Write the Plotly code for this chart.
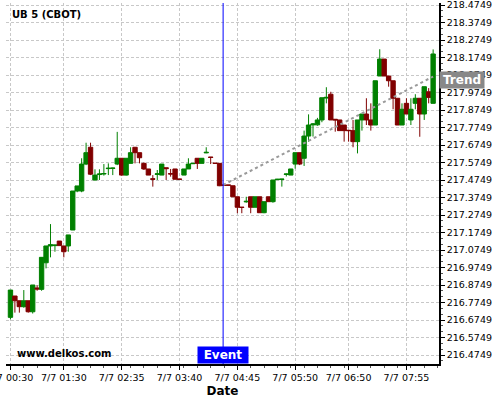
import pandas as pd
import plotly.graph_objects as go

# ---- data (5-minute bars, 7/7 00:30 onwards) ----
start_time = "2015-07-07 00:30"
n_bars = 96

opens = [216.690, 216.812, 216.785, 216.751, 216.785, 216.722, 216.858, 216.850, 217.002, 217.098,
         217.100, 217.126, 217.098, 217.098, 217.189, 217.412, 217.412, 217.566, 217.662, 217.475,
         217.506, 217.509, 217.540, 217.541, 217.566, 217.599, 217.503, 217.570, 217.662, 217.631,
         217.570, 217.538, 217.482, 217.507, 217.503, 217.545, 217.512, 217.538, 217.480, 217.503,
         217.538, 217.568, 217.599, 217.570, 217.630, 217.606, 217.571, 217.570, 217.446, 217.446,
         217.442, 217.379, 217.320, 217.350, 217.379, 217.319, 217.379, 217.288, 217.379, 217.351,
         217.477, 217.478, 217.507, 217.503, 217.566, 217.631, 217.599, 217.726, 217.790, 217.790,
         217.818, 217.943, 217.965, 217.822, 217.818, 217.789, 217.759, 217.757, 217.694, 217.818,
         217.852, 217.818, 217.789, 218.069, 218.166, 218.069, 218.042, 217.942, 217.789, 217.913,
         217.818, 217.913, 217.942, 217.852, 217.979, 217.913]
highs = [216.846, 216.812, 216.785, 216.846, 216.785, 216.875, 216.873, 217.033, 217.098, 217.223,
         217.105, 217.126, 217.098, 217.161, 217.412, 217.441, 217.599, 217.688, 217.688, 217.536,
         217.536, 217.566, 217.570, 217.545, 217.750, 217.599, 217.599, 217.662, 217.662, 217.631,
         217.575, 217.538, 217.503, 217.532, 217.566, 217.545, 217.538, 217.538, 217.480, 217.538,
         217.599, 217.570, 217.599, 217.599, 217.662, 217.606, 217.571, 217.570, 217.446, 217.446,
         217.442, 217.379, 217.320, 217.379, 217.379, 217.379, 217.379, 217.351, 217.379, 217.475,
         217.481, 217.481, 217.512, 217.538, 217.631, 217.631, 217.757, 217.850, 217.800, 217.830,
         217.945, 218.005, 217.979, 217.822, 217.818, 217.789, 217.759, 217.818, 217.818, 217.852,
         217.942, 217.913, 218.042, 218.222, 218.166, 218.069, 218.042, 217.942, 217.913, 217.942,
         217.942, 217.965, 217.942, 218.008, 218.000, 218.221]
lows = [216.679, 216.717, 216.717, 216.745, 216.717, 216.712, 216.842, 216.842, 216.970, 217.033,
        217.065, 217.100, 217.033, 217.065, 217.189, 217.405, 217.405, 217.560, 217.503, 217.471,
        217.475, 217.500, 217.503, 217.503, 217.560, 217.500, 217.500, 217.570, 217.570, 217.570,
        217.532, 217.503, 217.437, 217.475, 217.503, 217.475, 217.494, 217.479, 217.479, 217.503,
        217.538, 217.566, 217.538, 217.570, 217.628, 217.566, 217.570, 217.440, 217.444, 217.444,
        217.379, 217.285, 217.285, 217.345, 217.285, 217.319, 217.288, 217.285, 217.351, 217.345,
        217.475, 217.437, 217.495, 217.503, 217.540, 217.560, 217.555, 217.694, 217.723, 217.785,
        217.805, 217.913, 217.818, 217.751, 217.757, 217.694, 217.694, 217.662, 217.627, 217.757,
        217.789, 217.757, 217.789, 218.069, 218.069, 218.008, 217.879, 217.789, 217.789, 217.852,
        217.789, 217.879, 217.722, 217.818, 217.913, 217.913]
closes = [216.846, 216.785, 216.751, 216.785, 216.722, 216.875, 216.852, 217.033, 217.098, 217.105,
          217.103, 217.100, 217.065, 217.161, 217.412, 217.441, 217.566, 217.631, 217.508, 217.503,
          217.509, 217.512, 217.542, 217.543, 217.599, 217.503, 217.599, 217.631, 217.631, 217.602,
          217.538, 217.503, 217.479, 217.510, 217.566, 217.540, 217.509, 217.479, 217.479, 217.538,
          217.566, 217.570, 217.570, 217.599, 217.633, 217.604, 217.570, 217.442, 217.445, 217.445,
          217.379, 217.319, 217.318, 217.353, 217.319, 217.379, 217.288, 217.351, 217.351, 217.475,
          217.479, 217.480, 217.509, 217.538, 217.631, 217.566, 217.726, 217.789, 217.795, 217.818,
          217.945, 217.947, 217.818, 217.818, 217.757, 217.757, 217.757, 217.694, 217.818, 217.852,
          217.818, 217.789, 218.042, 218.166, 218.069, 218.042, 217.942, 217.789, 217.879, 217.852,
          217.879, 217.942, 217.852, 218.008, 217.947, 218.195]

tick_times = ["2015-07-07 00:30", "2015-07-07 01:30", "2015-07-07 02:35", "2015-07-07 03:40",
              "2015-07-07 04:45", "2015-07-07 05:50", "2015-07-07 06:50", "2015-07-07 07:55"]
tick_labels = ["7/7 00:30", "7/7 01:30", "7/7 02:35", "7/7 03:40",
               "7/7 04:45", "7/7 05:50", "7/7 06:50", "7/7 07:55"]

event_time = "2015-07-07 04:29"
trend_start = ("2015-07-07 04:29", 217.4463)
trend_end = ("2015-07-07 08:25", 218.066)
trend_label_price = 218.049

times = pd.date_range(start_time, periods=n_bars, freq="5min")

GREEN = "#008000"
RED = "#800000"
GRID = "#c8c8c8"
FONT = "DejaVu Sans"

fig = go.Figure()
fig.add_trace(go.Candlestick(
    x=times, open=opens, high=highs, low=lows, close=closes,
    increasing=dict(line=dict(color=GREEN, width=1), fillcolor=GREEN),
    decreasing=dict(line=dict(color=RED, width=1), fillcolor=RED),
    whiskerwidth=0, showlegend=False, hoverinfo="skip",
))

# trend line
fig.add_shape(type="line", xref="x", yref="y",
              x0=trend_start[0], y0=trend_start[1], x1=trend_end[0], y1=trend_end[1],
              line=dict(color="#9a9a9a", width=2, dash="dot"))
# event line
fig.add_shape(type="line", xref="x", yref="paper", x0=event_time, x1=event_time,
              y0=0, y1=1, line=dict(color="#0000ff", width=1))

fig.update_layout(
    width=500, height=400,
    margin=dict(l=6, r=61, t=3, b=36, autoexpand=False),
    paper_bgcolor="white", plot_bgcolor="white",
    font=dict(family=FONT, size=9.5, color="#000000"),
    boxgap=0.02, boxgroupgap=0,
    xaxis=dict(
        type="date", automargin=False,
        range=["2015-07-07 00:25:00", "2015-07-07 08:31:36"],
        rangeslider=dict(visible=False),
        tickmode="array", tickvals=tick_times, ticktext=tick_labels,
        ticklabeloverflow="allow",
        ticks="outside", ticklen=4, tickcolor="#000000",
        showline=True, linecolor="#000000", linewidth=1.5,
        showgrid=True, gridcolor=GRID, griddash="3px,2px", gridwidth=1,
        zeroline=False,
        minor=dict(dtick=15 * 60 * 1000, tick0="2015-07-07 00:30", ticks="outside",
                   ticklen=2, tickcolor="#555555", showgrid=False),
        title=dict(text="<b>Date</b>", font=dict(size=12, family=FONT), standoff=4),
        fixedrange=True,
    ),
    yaxis=dict(
        side="right", automargin=False,
        range=[216.4235, 218.4863],
        tick0=216.4749, dtick=0.1, tickformat=".4f",
        ticklabeloverflow="allow",
        ticks="outside", ticklen=4, tickcolor="#000000",
        showline=True, linecolor="#000000", linewidth=1.5,
        showgrid=True, gridcolor=GRID, griddash="3px,2px", gridwidth=1,
        zeroline=False,
        minor=dict(dtick=0.1 / 3, tick0=216.4749, ticks="outside", ticklen=2,
                   tickcolor="#555555", showgrid=False),
        fixedrange=True,
    ),
    annotations=[
        dict(text="<b>UB 5 (CBOT)</b>", xref="paper", yref="paper", x=0.009, y=0.967,
             xanchor="left", yanchor="middle", showarrow=False,
             font=dict(size=10, family=FONT, color="#000000")),
        dict(text="<b>www.delkos.com</b>", xref="paper", yref="paper", x=0.0208, y=0.028,
             xanchor="left", yanchor="middle", showarrow=False,
             font=dict(size=10, family=FONT, color="#000000")),
        dict(text="<b>Event</b>", xref="x", yref="paper", x=event_time, y=0,
             xanchor="center", yanchor="bottom", showarrow=False,
             bgcolor="#0000ff", width=50, height=16, borderpad=0,
             font=dict(size=12, family=FONT, color="#ffffff")),
        dict(text="<b>Trend</b>", xref="paper", yref="y", x=1, y=trend_label_price,
             xanchor="left", yanchor="middle", showarrow=False,
             bgcolor="#888888", width=44, height=16, borderpad=0,
             font=dict(size=12, family=FONT, color="#ffffff")),
    ],
)

fig.write_html("out.html", config={"displayModeBar": False},
               post_script="document.body.style.margin='0';document.body.style.padding='0';")
